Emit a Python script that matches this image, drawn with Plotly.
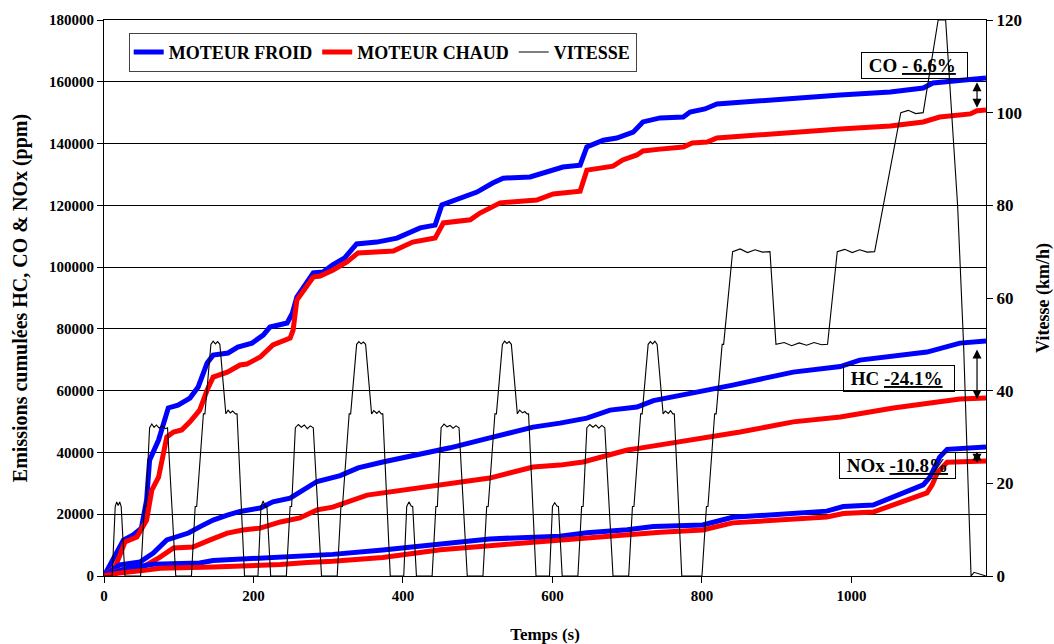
import plotly.graph_objects as go

# ---------------- data ----------------
# Cumulated CO (ppm)
co_froid_t = [0, 12, 26, 39, 50, 57, 61, 73, 86, 99, 115, 126, 138, 146, 166, 179, 198, 213, 222, 245, 252, 258,
              280, 293, 306, 322, 338, 365, 392, 423, 443, 452, 476, 499, 520, 534, 570, 597, 614, 637, 646, 668,
              686, 708, 721, 744, 775, 784, 804, 820, 851, 918, 985, 1052, 1096, 1109, 1132, 1180]
co_froid_v = [0, 5000, 11600, 13300, 15500, 24600, 37500, 44000, 54400, 55300, 57600, 61200, 69000, 71500, 72200,
              74100, 75400, 78000, 80600, 81900, 85100, 90300, 98100, 98400, 100700, 103000, 107500, 108100, 109400,
              112700, 113600, 120100, 122400, 124300, 127200, 128800, 129200, 131400, 132400, 133000, 138900, 141100,
              141800, 143700, 147000, 148300, 148600, 150200, 151200, 152800, 153400, 154700, 155700, 156700, 158000,
              159600, 160200, 161200]
co_chaud_t = [0, 15, 28, 44, 57, 64, 73, 84, 93, 104, 115, 128, 138, 146, 165, 182, 191, 209, 226, 249, 253, 258,
              280, 289, 306, 325, 340, 387, 413, 443, 454, 490, 503, 530, 579, 601, 637, 646, 681, 694, 713, 721,
              744, 775, 787, 807, 820, 851, 918, 985, 1052, 1096, 1118, 1159, 1168, 1180]
co_chaud_v = [0, 2900, 11000, 12600, 18100, 27800, 32000, 45000, 46600, 47300, 49900, 53700, 60200, 64400, 66000,
              68300, 68600, 70900, 74800, 77000, 79600, 89300, 96800, 97100, 99000, 101700, 104600, 105200, 108100,
              109400, 114300, 115300, 117500, 120800, 121700, 123700, 124600, 131400, 132700, 134700, 136300,
              137600, 138200, 138900, 140200, 140500, 141800, 142400, 143400, 144700, 145700, 147000, 148600,
              149600, 150600, 150900]

# Cumulated HC (ppm)
hc_froid_t = [0, 21, 48, 66, 84, 98, 113, 128, 146, 165, 182, 209, 226, 249, 262, 285, 316, 340, 373, 419, 450,
              463, 516, 574, 610, 646, 677, 713, 735, 811, 841, 922, 985, 1011, 1101, 1145, 1180]
hc_froid_v = [0, 3600, 4500, 7400, 11700, 12600, 13900, 15900, 18100, 19700, 20900, 22000, 24000, 25200, 27000,
              30600, 32500, 35000, 36900, 39200, 40500, 41500, 44700, 48200, 49500, 51100, 53700, 54700, 56800,
              60200, 61800, 66000, 67800, 69900, 72500, 75400, 76100]
hc_chaud_t = [0, 21, 52, 75, 93, 119, 142, 165, 186, 209, 236, 262, 285, 306, 352, 450, 463, 516, 574, 610, 641,
              700, 717, 811, 851, 922, 985, 1056, 1145, 1180]
hc_chaud_v = [0, 1900, 2900, 6100, 9100, 9400, 11700, 13900, 14900, 15500, 17500, 18800, 21400, 22300, 26200,
              29500, 30100, 31700, 35300, 35900, 36900, 40800, 41400, 45000, 46600, 49900, 51500, 54400, 57300,
              57600]

# Cumulated NOx (ppm)
nox_froid_t = [0, 31, 66, 128, 146, 195, 262, 306, 373, 450, 516, 610, 646, 700, 735, 801, 841, 967, 989, 1029,
               1056, 1096, 1105, 1118, 1128, 1180]
nox_froid_v = [0, 2500, 3800, 4200, 5000, 5500, 6200, 7000, 8400, 10500, 12000, 12900, 14000, 15000, 16000,
               16500, 19000, 21000, 22500, 23000, 25600, 29500, 32000, 38500, 41000, 41800]
nox_chaud_t = [0, 21, 57, 75, 146, 195, 236, 272, 306, 373, 450, 516, 610, 646, 700, 744, 801, 841, 967, 989,
               1029, 1056, 1101, 1108, 1115, 1128, 1180]
nox_chaud_v = [0, 1000, 1900, 2500, 2900, 3200, 3700, 4400, 4800, 6000, 8500, 9800, 11700, 12400, 13400, 14200,
               14900, 17200, 19100, 20200, 20700, 23000, 26900, 29500, 33500, 36800, 37200]

# Vehicle speed (km/h), breakpoints of the driving cycle
vitesse_t = [0, 11, 15, 17, 19, 21, 23, 28, 49, 54, 56, 61, 64, 67, 70, 74, 78, 82, 85, 96, 117, 122, 124, 133,
             135, 143, 146, 149, 152, 155, 163, 166, 169, 172, 176, 178, 188, 195,
             206, 210, 213, 216, 218, 223, 244, 249, 251, 256, 260, 264, 268, 272, 276, 280, 291, 312, 317, 319,
             328, 330, 338, 341, 344, 347, 350, 358, 361, 365, 368, 371, 373, 383, 390,
             401, 405, 408, 411, 413, 418, 439, 444, 446, 451, 455, 459, 463, 467, 471, 475, 486, 507, 512, 514,
             523, 525, 533, 536, 539, 542, 545, 553, 556, 560, 563, 566, 568, 578, 585,
             596, 600, 603, 606, 608, 613, 634, 639, 641, 646, 650, 654, 658, 662, 666, 670, 681, 702, 707, 709,
             718, 720, 728, 731, 734, 737, 740, 748, 751, 755, 758, 761, 763, 773, 780,
             800, 806, 808, 817, 819, 827, 829, 841, 851, 861, 871, 881, 891, 899, 910, 920, 930, 940, 950, 960,
             968, 981, 991, 1001, 1011, 1021, 1031, 1066, 1076, 1086, 1096, 1116, 1126, 1142, 1150, 1160, 1164,
             1180]
vitesse_v = [0, 0, 15, 16, 15.2, 16, 15, 0, 0, 15, 15, 32, 32.8, 32.1, 32.6, 31.9, 32.5, 31.8, 32, 0, 0, 15, 15, 35,
             35, 50, 50.7, 50.1, 50.6, 50, 35, 35.8, 35.2, 35.6, 35, 35, 0, 0,
             0, 15, 16.2, 14.8, 15, 0, 0, 15, 15, 32, 32.7, 32.1, 32.6, 31.8, 32.4, 32, 0, 0, 15, 15,
             35, 35, 50, 50.6, 50.1, 50.5, 50, 35, 35.7, 35.1, 35.6, 35, 35, 0, 0,
             0, 15, 16, 15.1, 15, 0, 0, 15, 15, 32, 32.8, 32.2, 32.5, 31.9, 32.4, 32, 0, 0, 15, 15,
             35, 35, 50, 50.7, 50.2, 50.6, 50, 35, 35.8, 35.2, 35.5, 35, 35, 0, 0,
             0, 15, 15.8, 15.1, 15, 0, 0, 15, 15, 32, 32.7, 32.1, 32.6, 31.9, 32.5, 32, 0, 0, 15, 15,
             35, 35, 50, 50.6, 50.1, 50.7, 50, 35, 35.6, 35.1, 35.7, 35, 35, 0, 0,
             0, 15, 15, 35, 35, 50, 50, 70, 70.6, 69.8, 70.4, 69.9, 70, 50, 50.4, 49.7, 50.3, 49.8, 50.4, 49.9,
             50, 70, 70.5, 69.8, 70.4, 69.9, 70, 100, 100.5, 99.8, 100, 120, 120, 80, 50, 0, 0.8,
             0]

# ---------------- figure ----------------
FONT = "Liberation Serif"
BLUE = "#0000FF"
RED = "#FF0000"

fig = go.Figure()
fig.add_trace(go.Scatter(x=co_froid_t, y=co_froid_v, mode="lines", name="MOTEUR FROID",
                         line=dict(color=BLUE, width=5), legendgroup="f"))
fig.add_trace(go.Scatter(x=co_chaud_t, y=co_chaud_v, mode="lines", name="MOTEUR CHAUD",
                         line=dict(color=RED, width=5), legendgroup="c"))
fig.add_trace(go.Scatter(x=hc_froid_t, y=hc_froid_v, mode="lines", showlegend=False,
                         line=dict(color=BLUE, width=5), legendgroup="f"))
fig.add_trace(go.Scatter(x=hc_chaud_t, y=hc_chaud_v, mode="lines", showlegend=False,
                         line=dict(color=RED, width=5), legendgroup="c"))
fig.add_trace(go.Scatter(x=nox_froid_t, y=nox_froid_v, mode="lines", showlegend=False,
                         line=dict(color=BLUE, width=5), legendgroup="f"))
fig.add_trace(go.Scatter(x=nox_chaud_t, y=nox_chaud_v, mode="lines", showlegend=False,
                         line=dict(color=RED, width=5), legendgroup="c"))
fig.add_trace(go.Scatter(x=vitesse_t, y=vitesse_v, mode="lines", name="VITESSE", yaxis="y2",
                         line=dict(color="black", width=1.1)))

bold = dict(family=FONT, color="black", weight="bold")

# labelled boxes
NB = "\u00a0"
boxes = [
    (1084, 165300, NB + "CO <u>- 6.6%</u>" + NB + NB),
    (1063, 63800, NB + "HC <u>-24.1%</u>" + NB + NB),
    (1062, 35900, NB + "NOx <u>-10.8%</u>" + NB),
]
for bx, by, txt in boxes:
    fig.add_annotation(x=bx, y=by, xref="x", yref="y", text=txt, showarrow=False,
                       font=dict(size=19, **bold), bordercolor="black", borderwidth=1, borderpad=2)

# double arrows between cold and hot final values
arrows = [(1168, 160300, 151600), (1168, 73800, 57300), (1168, 40800, 36700)]
for axx, ytop, ybot in arrows:
    fig.add_annotation(x=axx, y=ybot, ax=axx, ay=ytop, xref="x", yref="y", axref="x", ayref="y",
                       text="", showarrow=True, arrowhead=2, arrowside="end+start", arrowsize=1.5,
                       arrowwidth=1.2, arrowcolor="black")

fig.update_layout(
    width=1054, height=644,
    margin=dict(l=104, r=68, t=20, b=68, autoexpand=False),
    paper_bgcolor="white", plot_bgcolor="white",
    font=dict(family=FONT, color="black"),
    showlegend=True,
    legend=dict(orientation="h", x=0.028, y=0.977, xanchor="left", yanchor="top",
                bordercolor="#444444", borderwidth=1, bgcolor="white",
                font=dict(size=18, **bold), itemwidth=30, tracegroupgap=0),
    xaxis=dict(range=[0, 1180], tickvals=[0, 200, 400, 600, 800, 1000], ticks="outside", ticklen=6,
               tickcolor="black", showline=True, linecolor="black", linewidth=1, mirror=True,
               showgrid=False, zeroline=False, tickfont=dict(size=15, **bold), automargin=False,
               title=dict(text="Temps (s)", font=dict(size=17, **bold), standoff=27)),
    yaxis=dict(range=[0, 180000], dtick=20000, ticks="outside", ticklen=6, tickcolor="black",
               showline=True, linecolor="black", linewidth=1, showgrid=True, gridcolor="black",
               gridwidth=1, zeroline=False, tickfont=dict(size=15, **bold), tickformat="d",
               automargin=False,
               title=dict(text="Emissions cumulées HC, CO & NOx (ppm)", font=dict(size=20, **bold),
                          standoff=16)),
    yaxis2=dict(range=[0, 120], dtick=20, overlaying="y", side="right", ticks="outside", ticklen=6,
                tickcolor="black", showline=True, linecolor="black", linewidth=1, showgrid=False,
                zeroline=False, tickfont=dict(size=17, **bold), automargin=False,
                title=dict(text="Vitesse (km/h)", font=dict(size=18, **bold), standoff=15)),
)

fig.write_html("out.html", config={"displayModeBar": False},
               post_script="document.body.style.margin='0';document.body.style.overflow='hidden';")
